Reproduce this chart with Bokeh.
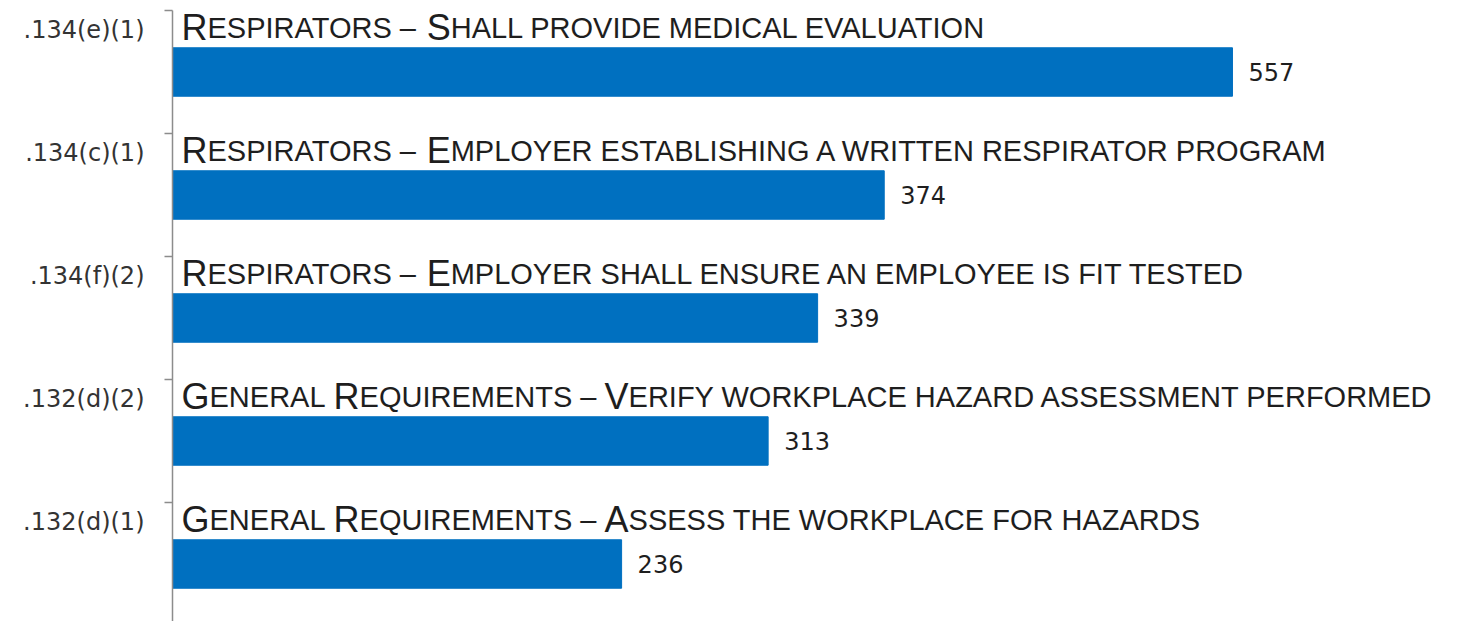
from bokeh.plotting import figure
from bokeh.models import Range1d, FixedTicker, ColumnDataSource
from bokeh.core.properties import value
from bokeh.embed import file_html
from bokeh.resources import INLINE

# ---- data (top to bottom) ----
codes = [".134(e)(1)", ".134(c)(1)", ".134(f)(2)", ".132(d)(2)", ".132(d)(1)"]
titles = [
    "Respirators – Shall provide medical evaluation",
    "Respirators – Employer establishing a written respirator program",
    "Respirators – Employer shall ensure an employee is fit tested",
    "General Requirements – Verify workplace hazard assessment performed",
    "General Requirements – Assess the workplace for hazards",
]
counts = [557, 374, 339, 313, 236]

n = len(codes)
ypos = [n - 1 - k for k in range(n)]

BAR_COLOR = "#0070C0"
TXT_COLOR = "#1e1e1e"

W_PX, H_PX = 1478, 621
LEFT, TOP = 172, 10
PX_PER_UNIT = 1.903
BAND_PX = 123.0

p = figure(width=W_PX, height=H_PX, output_backend="svg", toolbar_location=None,
           x_range=Range1d(0, (W_PX - LEFT) / PX_PER_UNIT),
           y_range=Range1d(n - 0.5 - (H_PX - TOP) / BAND_PX, n - 0.5),
           min_border_left=LEFT, min_border_right=0, min_border_top=TOP, min_border_bottom=0,
           x_axis_location=None)
p.grid.visible = False
p.outline_line_color = None
p.background_fill_color = "white"

# bars
p.hbar(y=ypos, left=0, right=counts, height=0.394, color=BAR_COLOR)

# value labels
p.text(x=counts, y=ypos, text=[str(c) for c in counts], x_offset=16,
       text_baseline="middle", text_align="left",
       text_font=value("DejaVu Sans"), text_font_size="24px", text_color=TXT_COLOR)

# small-caps titles: build runs of big / small capitals
W = {"A": 667, "B": 667, "C": 722, "D": 722, "E": 667, "F": 611, "G": 778, "H": 722,
     "I": 278, "J": 500, "K": 667, "L": 556, "M": 833, "N": 722, "O": 778, "P": 667,
     "Q": 778, "R": 722, "S": 667, "T": 611, "U": 722, "V": 667, "W": 944, "X": 667,
     "Y": 667, "Z": 611, " ": 278, "–": 556}
BIG, SMALL = 36, 29
rx, ry, rt, rs, ro = [], [], [], [], []
for t, y in zip(titles, ypos):
    runs = []
    for ch in t:
        big = ch.isupper()
        if runs and (not big) and (not runs[-1][1]):
            runs[-1][0] += ch.upper()
        else:
            runs.append([ch.upper(), big])
    off = 9.0
    for txt, big in runs:
        size = BIG if big else SMALL
        rx.append(0)
        ry.append(y + 0.36)
        rt.append(txt)
        rs.append(f"{size}px")
        ro.append(off)
        off += sum(W.get(c, 600) for c in txt) / 1000.0 * size

src = ColumnDataSource(dict(x=rx, y=ry, text=rt, size=rs, off=ro))
p.text(x="x", y="y", text="text", text_font_size="size", x_offset="off", source=src,
       text_font=value("Liberation Sans"), text_baseline="alphabetic", text_align="left",
       text_color=TXT_COLOR)

# y axis: code labels near band tops, tick marks at band boundaries
ax = p.yaxis[0]
label_pos = [y + 0.345 for y in ypos]
ax.ticker = FixedTicker(ticks=label_pos, minor_ticks=[k + 0.5 for k in range(-1, n)])
ax.major_label_overrides = {lp: c for lp, c in zip(label_pos, codes)}
ax.major_tick_out = 0
ax.major_tick_in = 0
ax.minor_tick_out = 8
ax.minor_tick_in = 0
ax.axis_line_color = "#8c8c8c"
ax.axis_line_width = 1.5
ax.minor_tick_line_color = "#8c8c8c"
ax.minor_tick_line_width = 1.5
ax.major_label_standoff = 20
ax.major_label_text_font = "DejaVu Sans"
ax.major_label_text_font_size = "24px"
ax.major_label_text_color = "#333333"

open("out.html", "w").write(file_html(p, INLINE))
